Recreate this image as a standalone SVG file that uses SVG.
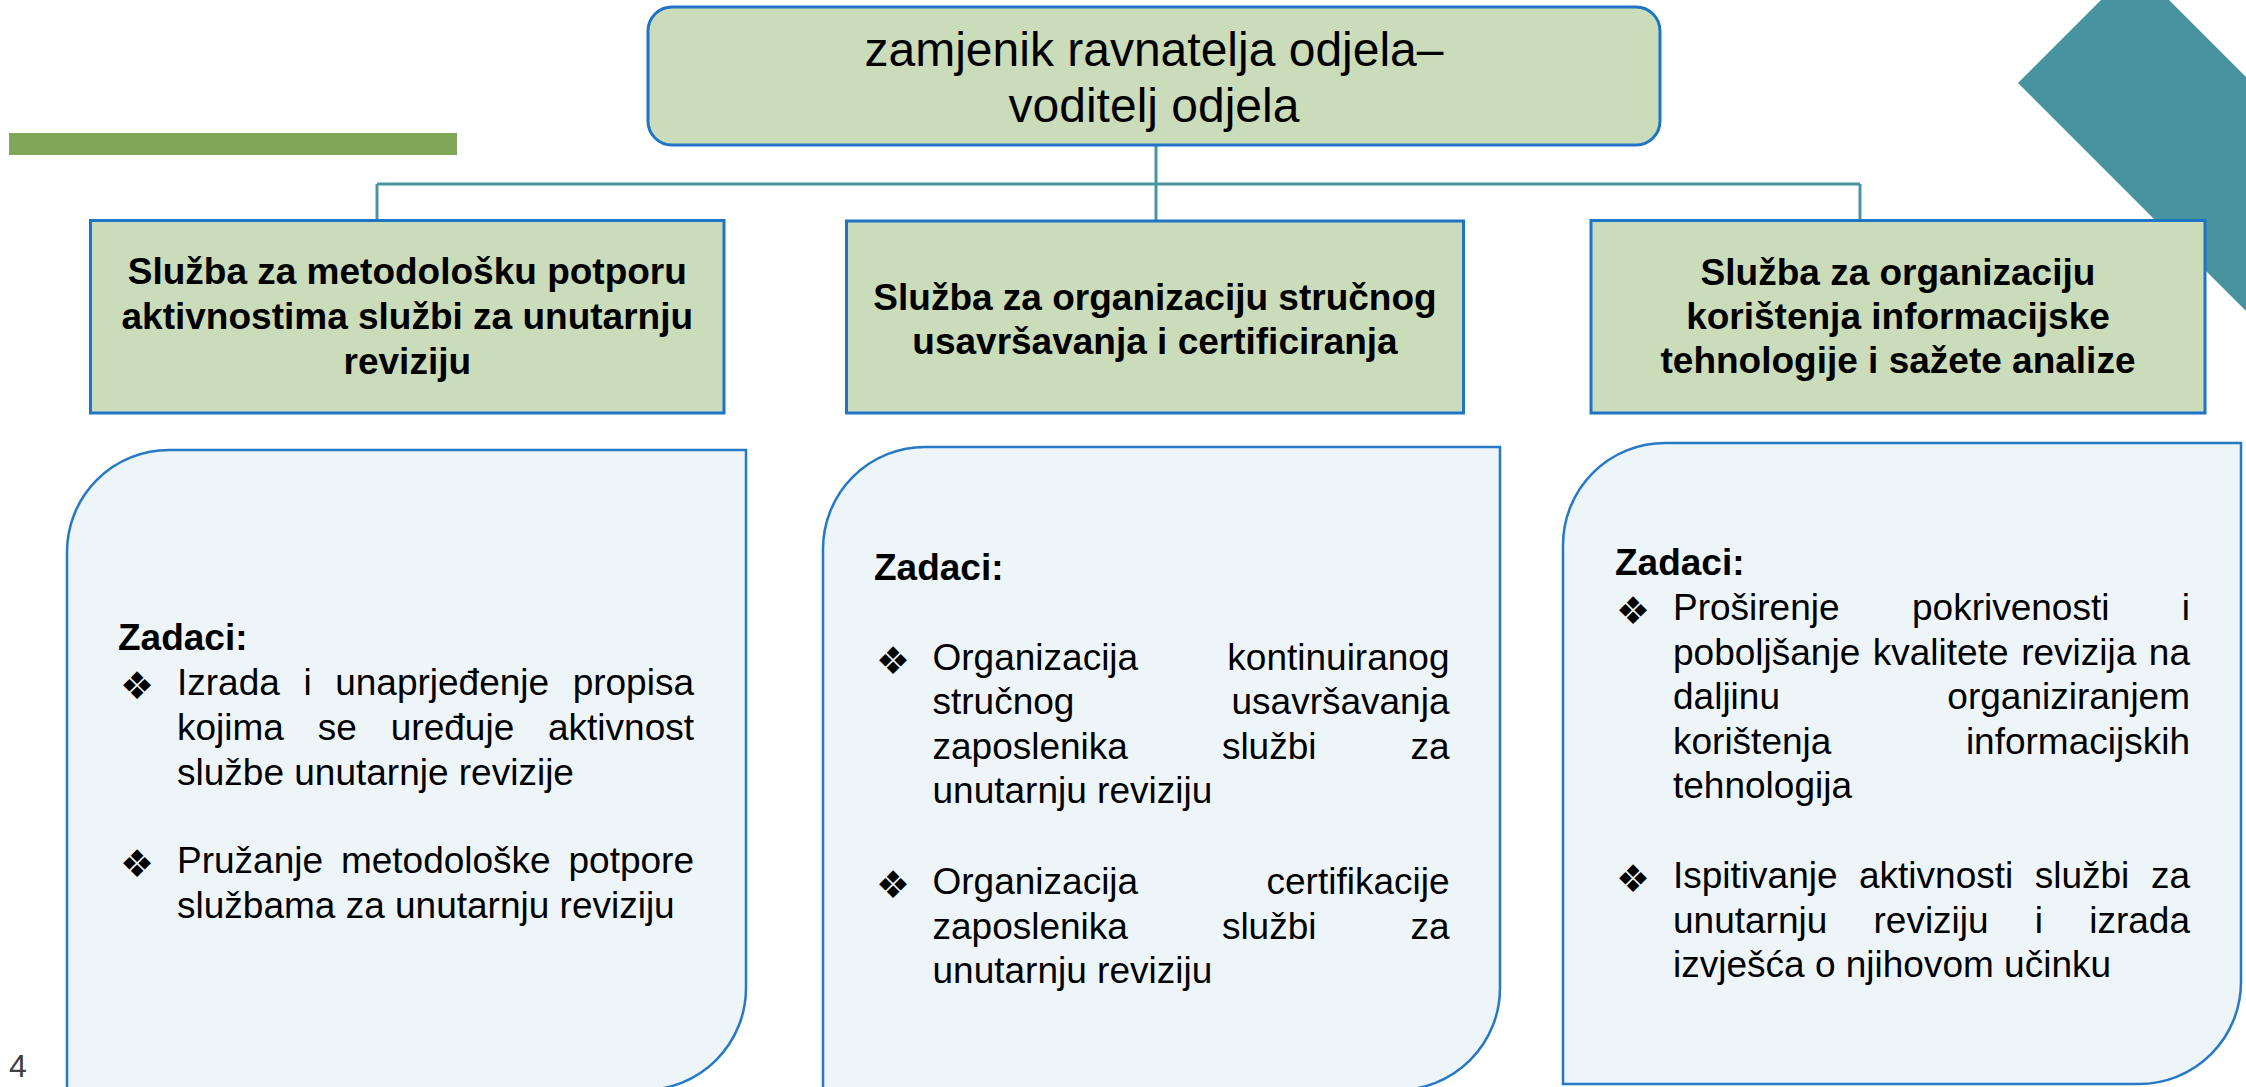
<svg xmlns="http://www.w3.org/2000/svg" width="2246" height="1087" viewBox="0 0 2246 1087">
  <style>
    .bg { fill: #ffffff; }
    .hdrbox { fill: #CBDCBB; stroke: #1F74C4; stroke-width: 3; }
    .taskbox { fill: #EDF5F8; stroke: #2878C8; stroke-width: 2.5; }
    .conn { fill: none; stroke: #4A95A2; stroke-width: 3; }
    .t { font-family: "Liberation Sans", Arial, sans-serif; fill: #000000; }
    .top { font-size: 48px; text-anchor: middle; }
    .hdr { font-size: 37px; font-weight: bold; text-anchor: middle; }
    .body { font-size: 37px; }
    .bold { font-weight: bold; }
    .end { text-anchor: end; }
    .bul { font-family: "DejaVu Sans", sans-serif; font-size: 38px; fill: #000000; }
  </style>
  <rect class="bg" x="0" y="0" width="2246" height="1087"/>

  <g id="decor">
    <rect x="9" y="133" width="448" height="22" fill="#7FA757"/>
    <polygon points="2135,-34 2018,83 2350,415 2467,298" fill="#4794A0"/>
    <text x="9" y="1077" font-family="Liberation Sans, Arial, sans-serif" font-size="32" fill="#404040">4</text>
  </g>

  <g id="connectors">
    <path class="conn" d="M1156 145 V221"/>
    <path class="conn" d="M377 184 H1860"/>
    <path class="conn" d="M377 184 V220"/>
    <path class="conn" d="M1860 184 V220"/>
  </g>

  <g id="node-top">
    <rect class="hdrbox" x="648" y="7" width="1012" height="138" rx="24" ry="24"/>
    <text class="t top" x="1154" y="65.5">zamjenik ravnatelja odjela–</text>
    <text class="t top" x="1154" y="122">voditelj odjela</text>
  </g>

  <g id="node-sluzba-1">
    <rect class="hdrbox" x="90.5" y="220.5" width="633.5" height="192.5"/>
    <text class="t hdr" x="407.3" y="284.3">Služba za metodološku potporu</text>
    <text class="t hdr" x="407.3" y="329.3">aktivnostima službi za unutarnju</text>
    <text class="t hdr" x="407.3" y="374.3">reviziju</text>
  </g>

  <g id="node-sluzba-2">
    <rect class="hdrbox" x="846.5" y="221" width="617" height="192"/>
    <text class="t hdr" x="1155" y="309.5">Služba za organizaciju stručnog</text>
    <text class="t hdr" x="1155" y="353.5">usavršavanja i certificiranja</text>
  </g>

  <g id="node-sluzba-3">
    <rect class="hdrbox" x="1591" y="220.5" width="614" height="192.5"/>
    <text class="t hdr" x="1898" y="285">Služba za organizaciju</text>
    <text class="t hdr" x="1898" y="329">korištenja informacijske</text>
    <text class="t hdr" x="1898" y="373">tehnologije i sažete analize</text>
  </g>

  <g id="node-zadaci-1">
    <path class="taskbox" d="M67 1090 V552 A102 102 0 0 1 169 450 H746 V988 A102 102 0 0 1 644 1090 Z"/>
    <text class="t body bold" x="118" y="649.5">Zadaci:</text>
    <text class="bul" x="120" y="699">❖</text>
    <text class="t body" y="695"><tspan x="177">Izrada</tspan><tspan x="303.4">i</tspan><tspan x="335.2">unaprjeđenje</tspan></text>
    <text class="t body end" x="694" y="695">propisa</text>
    <text class="t body" y="740"><tspan x="177">kojima</tspan><tspan x="317.8">se</tspan><tspan x="390.8">uređuje</tspan></text>
    <text class="t body end" x="694" y="740">aktivnost</text>
    <text class="t body" x="177" y="785">službe unutarnje revizije</text>
    <text class="bul" x="120" y="877">❖</text>
    <text class="t body" y="873"><tspan x="177">Pružanje</tspan><tspan x="340.9">metodološke</tspan></text>
    <text class="t body end" x="694" y="873">potpore</text>
    <text class="t body" x="177" y="918">službama za unutarnju reviziju</text>
  </g>

  <g id="node-zadaci-2">
    <path class="taskbox" d="M823 1090 V549 A102 102 0 0 1 925 447 H1500 V988 A102 102 0 0 1 1398 1090 Z"/>
    <text class="t body bold" x="874" y="580">Zadaci:</text>
    <text class="bul" x="876" y="673.5">❖</text>
    <text class="t body" x="932.5" y="669.5">Organizacija</text>
    <text class="t body end" x="1449.5" y="669.5">kontinuiranog</text>
    <text class="t body" x="932.5" y="714">stručnog</text>
    <text class="t body end" x="1449.5" y="714">usavršavanja</text>
    <text class="t body" y="758.5"><tspan x="932.5">zaposlenika</tspan><tspan x="1221.9">službi</tspan></text>
    <text class="t body end" x="1449.5" y="758.5">za</text>
    <text class="t body" x="932.5" y="803">unutarnju reviziju</text>
    <text class="bul" x="876" y="898">❖</text>
    <text class="t body" x="932.5" y="894">Organizacija</text>
    <text class="t body end" x="1449.5" y="894">certifikacije</text>
    <text class="t body" y="938.5"><tspan x="932.5">zaposlenika</tspan><tspan x="1221.9">službi</tspan></text>
    <text class="t body end" x="1449.5" y="938.5">za</text>
    <text class="t body" x="932.5" y="983">unutarnju reviziju</text>
  </g>

  <g id="node-zadaci-3">
    <path class="taskbox" d="M1563 1084 V545 A102 102 0 0 1 1665 443 H2241 V982 A102 102 0 0 1 2139 1084 Z"/>
    <text class="t body bold" x="1615" y="574.5">Zadaci:</text>
    <text class="bul" x="1616" y="624">❖</text>
    <text class="t body" y="620"><tspan x="1673">Proširenje</tspan><tspan x="1912">pokrivenosti</tspan></text>
    <text class="t body end" x="2190" y="620">i</text>
    <text class="t body" y="664.5"><tspan x="1673">poboljšanje</tspan><tspan x="1872.8">kvalitete</tspan><tspan x="2021.2">revizija</tspan></text>
    <text class="t body end" x="2190" y="664.5">na</text>
    <text class="t body" x="1673" y="709">daljinu</text>
    <text class="t body end" x="2190" y="709">organiziranjem</text>
    <text class="t body" x="1673" y="753.5">korištenja</text>
    <text class="t body end" x="2190" y="753.5">informacijskih</text>
    <text class="t body" x="1673" y="798">tehnologija</text>
    <text class="bul" x="1616" y="892">❖</text>
    <text class="t body" y="888"><tspan x="1673">Ispitivanje</tspan><tspan x="1859">aktivnosti</tspan><tspan x="2034.7">službi</tspan></text>
    <text class="t body end" x="2190" y="888">za</text>
    <text class="t body" y="932.5"><tspan x="1673">unutarnju</tspan><tspan x="1873.5">reviziju</tspan><tspan x="2034.8">i</tspan></text>
    <text class="t body end" x="2190" y="932.5">izrada</text>
    <text class="t body" x="1673" y="977">izvješća o njihovom učinku</text>
  </g>
</svg>
